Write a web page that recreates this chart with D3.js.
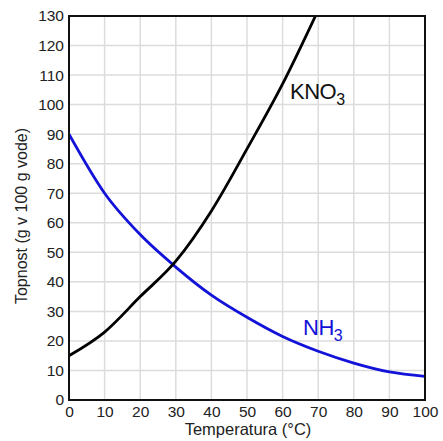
<!DOCTYPE html>
<html><head><meta charset="utf-8">
<script src="https://cdn.jsdelivr.net/npm/d3@7"></script>
<style>body{margin:0;background:#fff}svg{display:block}text{font-family:"Liberation Sans",Arial,sans-serif}</style>
</head><body>
<svg id="c" width="443" height="441"></svg>
<script>
const temps = [0,10,20,30,40,50,60,70,80,90,100];
const kno3 = [15,23,35,47,64,85,107,132];
const nh3 = [90,70,56,45,35.5,28,21.5,16.5,12.5,9.5,8];
const xTicks = [0,10,20,30,40,50,60,70,80,90,100];
const yTicks = [0,10,20,30,40,50,60,70,80,90,100,110,120,130];

const svg = d3.select("#c");
const x = d3.scaleLinear().domain([0,100]).range([69,425]);
const y = d3.scaleLinear().domain([0,130]).range([400,16]);

// grid
svg.append("g").selectAll("line").data(xTicks).join("line")
  .attr("x1",d=>x(d)).attr("x2",d=>x(d)).attr("y1",y(0)).attr("y2",y(130))
  .attr("stroke","#dcdcdc").attr("stroke-width",1.5);
svg.append("g").selectAll("line").data(yTicks).join("line")
  .attr("y1",d=>y(d)).attr("y2",d=>y(d)).attr("x1",x(0)).attr("x2",x(100))
  .attr("stroke","#dcdcdc").attr("stroke-width",1.5);

svg.append("defs").append("clipPath").attr("id","clip").append("rect")
  .attr("x",x(0)).attr("y",y(130)).attr("width",x(100)-x(0)).attr("height",y(0)-y(130));

const line = d3.line().x((d,i)=>x(temps[i])).y(d=>y(d)).curve(d3.curveMonotoneX);
svg.append("path").datum(nh3).attr("d",line).attr("fill","none")
  .attr("stroke","#1212d8").attr("stroke-width",2.8).attr("clip-path","url(#clip)");
svg.append("path").datum(kno3).attr("d",line).attr("fill","none")
  .attr("stroke","#000").attr("stroke-width",2.8).attr("clip-path","url(#clip)");

// frame
svg.append("rect").attr("x",x(0)).attr("y",y(130)).attr("width",x(100)-x(0)).attr("height",y(0)-y(130))
  .attr("fill","none").attr("stroke","#111").attr("stroke-width",2);

// axes labels
const xa = svg.append("g").attr("transform",`translate(0,${y(0)})`)
  .call(d3.axisBottom(x).tickValues(xTicks).tickSize(0).tickPadding(6));
xa.select(".domain").remove();
xa.selectAll("text").attr("font-size",15.5).attr("fill","#222").style("font-family","Liberation Sans, Arial, sans-serif");
const ya = svg.append("g").attr("transform",`translate(${x(0)},0)`)
  .call(d3.axisLeft(y).tickValues(yTicks).tickSize(0).tickPadding(5));
ya.select(".domain").remove();
ya.selectAll("text").attr("font-size",15.5).attr("fill","#222").style("font-family","Liberation Sans, Arial, sans-serif");

svg.append("text").attr("x",248).attr("y",435).attr("text-anchor","middle")
  .attr("font-size",16.5).attr("fill","#222").text("Temperatura (°C)");
svg.append("text").attr("transform",`translate(27,216) rotate(-90)`).attr("text-anchor","middle")
  .attr("font-size",16).attr("fill","#222").text("Topnost (g v 100 g vode)");

const k = svg.append("text").attr("x",290).attr("y",99).attr("font-size",22).attr("fill","#111").attr("letter-spacing",-0.5);
k.append("tspan").text("KNO");
k.append("tspan").attr("dy",6).attr("font-size",16).text("3");
const n = svg.append("text").attr("x",303).attr("y",y(22)).attr("font-size",22).attr("fill","#1212d8").attr("letter-spacing",-0.5);
n.append("tspan").text("NH");
n.append("tspan").attr("dy",6).attr("font-size",16).text("3");
</script>
</body></html>
